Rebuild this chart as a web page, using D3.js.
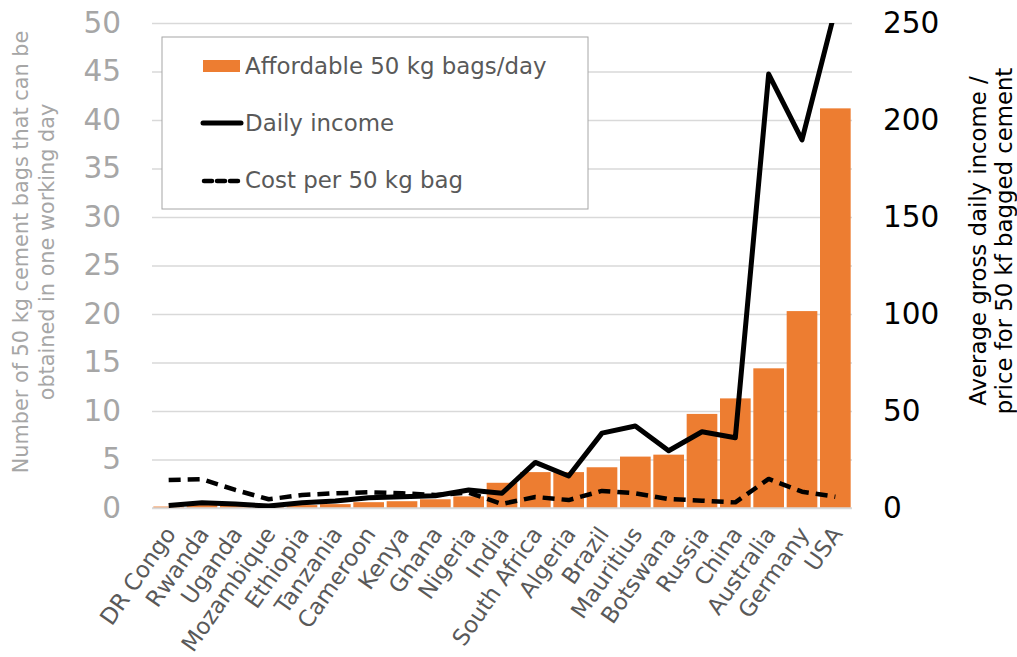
<!DOCTYPE html>
<html>
<head>
<meta charset="utf-8">
<script src="https://cdn.jsdelivr.net/npm/d3@7"></script>
<style>
  body { margin: 0; background: #fff; }
  svg { font-family: "DejaVu Sans", Verdana, sans-serif; }
</style>
</head>
<body>
<div id="wrapper"></div>
<script>
// data
const countries = ['DR Congo','Rwanda','Uganda','Mozambique','Ethiopia','Tanzania','Cameroon','Kenya','Ghana','Nigeria','India','South Africa','Algeria','Brazil','Mauritius','Botswana','Russia','China','Australia','Germany','USA'];
const affordableBags = [0.15,0.3,0.25,0.2,0.3,0.4,0.6,0.7,0.9,1.2,2.6,3.7,3.7,4.2,5.3,5.5,9.7,11.3,14.4,20.3,41.2];
const dailyIncome = [1.3,2.7,2,1,2.7,3.6,5.3,5.8,6.3,9.3,7.6,23.5,16.5,38.6,42.3,29.5,39.3,36.2,223.7,189.7,257];
const costPerBag = [14.4,14.8,9.3,4.5,6.7,7.6,8.1,7.6,6.7,7.9,2.1,5.7,4.1,8.8,7.6,4.6,3.8,2.9,15,8.4,5.8];
const leftTicks = [0,5,10,15,20,25,30,35,40,45,50];
const rightTicks = [0,50,100,150,200,250];

const W = 1017, H = 657;
const pLeft = 152, pRight = 852, pTop = 23, pBottom = 508;
const orange = '#ED7D31';

let svg = d3.select('#wrapper').append('svg')
  .attr('width', W).attr('height', H);

let x = d3.scaleBand().domain(countries).range([pLeft, pRight])
  .paddingInner(0.08).paddingOuter(0.04);
let yL = d3.scaleLinear().domain([0, 50]).range([pBottom, pTop]);
let yR = d3.scaleLinear().domain([0, 250]).range([pBottom, pTop]);

// gridlines
let grid = svg.append('g')
  .attr('transform', `translate(${pLeft},0)`)
  .call(d3.axisLeft(yL).tickValues(leftTicks).tickSize(-(pRight - pLeft)).tickFormat(''));
grid.select('.domain').remove();
grid.selectAll('line').attr('stroke', '#d9d9d9').attr('stroke-width', 1.3);

// bars
svg.append('g').selectAll('rect')
  .data(affordableBags)
  .enter().append('rect')
  .attr('x', (d, i) => x(countries[i]))
  .attr('width', x.bandwidth())
  .attr('y', d => yL(d))
  .attr('height', d => pBottom - yL(d))
  .attr('fill', orange);

// baseline
svg.append('line')
  .attr('x1', pLeft).attr('x2', pRight)
  .attr('y1', pBottom).attr('y2', pBottom)
  .attr('stroke', '#d9d9d9').attr('stroke-width', 1.3);

// lines, clipped to the plot area
svg.append('clipPath').attr('id', 'plotclip')
  .append('rect').attr('x', pLeft).attr('y', pTop).attr('width', pRight - pLeft).attr('height', pBottom - pTop);

let line = d3.line()
  .x((d, i) => x(countries[i]) + x.bandwidth() / 2)
  .y(d => yR(d));

let lines = svg.append('g').attr('clip-path', 'url(#plotclip)');
lines.append('path')
  .datum(costPerBag)
  .attr('d', line)
  .attr('fill', 'none')
  .attr('stroke', '#000')
  .attr('stroke-width', 4.5)
  .attr('stroke-dasharray', '12,7')
  .attr('stroke-linejoin', 'round');
lines.append('path')
  .datum(dailyIncome)
  .attr('d', line)
  .attr('fill', 'none')
  .attr('stroke', '#000')
  .attr('stroke-width', 5)
  .attr('stroke-linejoin', 'round');

// left axis
let yAxisL = svg.append('g')
  .attr('transform', `translate(${pLeft},0)`)
  .call(d3.axisLeft(yL).tickValues(leftTicks).tickSize(0).tickPadding(31));
yAxisL.select('.domain').remove();
yAxisL.selectAll('text').style('font-size', '29.5px').attr('fill', '#a6a6a6')
  .style('font-family', '"DejaVu Sans", Verdana, sans-serif');

// right axis
let yAxisR = svg.append('g')
  .attr('transform', `translate(${pRight},0)`)
  .call(d3.axisRight(yR).tickValues(rightTicks).tickSize(0).tickPadding(31));
yAxisR.select('.domain').remove();
yAxisR.selectAll('text').style('font-size', '29.5px').attr('fill', '#000')
  .style('font-family', '"DejaVu Sans", Verdana, sans-serif');

// x labels
let xAxis = svg.append('g')
  .attr('transform', `translate(0,${pBottom})`)
  .call(d3.axisBottom(x).tickSize(0).tickPadding(0));
xAxis.select('.domain').remove();
xAxis.selectAll('text')
  .attr('y', 0).attr('dy', 0)
  .attr('transform', 'translate(8,26) rotate(-55)')
  .attr('text-anchor', 'end')
  .attr('fill', '#595959')
  .style('font-size', '22.8px')
  .style('font-family', '"DejaVu Sans", Verdana, sans-serif');

// axis titles
let tL = svg.append('text')
  .attr('transform', 'translate(28,252) rotate(-90)')
  .attr('text-anchor', 'middle')
  .attr('fill', '#a6a6a6')
  .style('font-size', '20.8px');
tL.append('tspan').attr('x', 0).attr('dy', 0).text('Number of 50 kg cement bags that can be');
tL.append('tspan').attr('x', 0).attr('dy', 26).text('obtained in one working day');

let tR = svg.append('text')
  .attr('transform', 'translate(986,241) rotate(-90)')
  .attr('text-anchor', 'middle')
  .attr('fill', '#000')
  .style('font-size', '22.8px');
tR.append('tspan').attr('x', 0).attr('dy', 0).text('Average gross daily income /');
tR.append('tspan').attr('x', 0).attr('dy', 26).text('price for 50 kf bagged cement');

// legend
let legend = svg.append('g');
legend.append('rect')
  .attr('x', 162).attr('y', 37).attr('width', 426).attr('height', 172)
  .attr('fill', '#fff').attr('stroke', '#a6a6a6').attr('stroke-width', 1);
legend.append('rect')
  .attr('x', 203).attr('y', 60).attr('width', 37).attr('height', 12).attr('fill', orange);
legend.append('line')
  .attr('x1', 203).attr('x2', 241).attr('y1', 123).attr('y2', 123)
  .attr('stroke', '#000').attr('stroke-width', 5).attr('stroke-linecap', 'round');
legend.append('line')
  .attr('x1', 204).attr('x2', 241).attr('y1', 181).attr('y2', 181)
  .attr('stroke', '#000').attr('stroke-width', 4.5).attr('stroke-dasharray', '8,5').attr('stroke-linecap', 'round');
let legendLabels = ['Affordable 50 kg bags/day', 'Daily income', 'Cost per 50 kg bag'];
let legendY = [74, 131, 188];
legend.selectAll('text.lg')
  .data(legendLabels)
  .enter().append('text')
  .attr('class', 'lg')
  .attr('x', 245)
  .attr('y', (d, i) => legendY[i])
  .attr('fill', '#595959')
  .style('font-size', '22.9px')
  .text(d => d);
</script>
</body>
</html>
